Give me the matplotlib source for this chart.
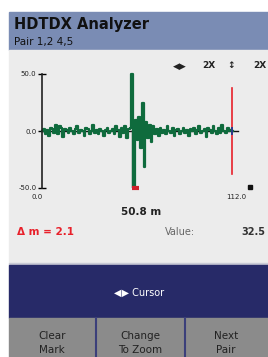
import numpy as np
import matplotlib.pyplot as plt
from matplotlib.patches import Rectangle

# trace data (distance in m, amplitude)
dist = np.arange(0, 109, 1.0)
amplitude = [0, 2, -3, 1, -4, 3, 2, -2, 5, -3, 4, 3, -5, 2, 1, -2, 3, 0, -3, 2,
             4, -2, 1, 0, -4, 3, 2, -3, 0, 5, -2, 1, -3, 2, 0, -4, 1, 3, -2, 0,
             2, -3, 4, 1, -5, 3, -2, 4, -6, 2, 3, 50, -50, 10, -8, 12, -15, 25, -32, 8,
             -6, 5, -10, 4, -3, 2, -4, 3, -2, 1, -3, 4, 0, -2, 3, -4, 1, 2, -3, 0,
             3, -2, 1, -4, 2, 0, 3, -3, 1, 4, -2, 0, 2, -5, 3, 1, -2, 4, 0, -3,
             3, -2, 5, 0, -2, 3, 0, 1, 0]
cursor_pos = 50.8
mark_pos = 107.5
mark_range = (-38, 38)
y_ticks = [50, 0, -50]
y_tick_labels = ["50.0", "0.0", "-50.0"]
x_range = (0, 112)
button_labels = ["Clear\nMark", "Change\nTo Zoom", "Next\nPair"]

W, H = 268, 357
fig = plt.figure(figsize=(W / 100, H / 100), dpi=100)
fig.patch.set_facecolor("white")

bg = fig.add_axes([0, 0, 1, 1])
bg.set_xlim(0, W)
bg.set_ylim(H, 0)
bg.axis("off")

# screen panels
bg.add_patch(Rectangle((9, 12), W - 9, 38, color="#7a8cb4"))
bg.add_patch(Rectangle((9, 50), W - 9, 214, color="#ececec"))
bg.add_patch(Rectangle((9, 263), W - 9, 2, color="#c9cad6"))
bg.add_patch(Rectangle((9, 265), W - 9, 53, color="#272a68"))
bg.add_patch(Rectangle((9, 318), W - 9, H - 318, color="#8b8b8b"))
for xd in [96, 185]:
    bg.plot([xd, xd], [318, H], color="#3b3f7a", lw=1.5)

bg.text(14, 24, "HDTDX Analyzer", fontsize=10.5, fontweight="bold", va="center", color="#111111")
bg.text(14, 42, "Pair 1,2 4,5", fontsize=7.5, va="center", color="#111111")

for xt, s in [(180, "◀▶"), (209, "2X"), (231, "↕"), (260, "2X")]:
    bg.text(xt, 66, s, fontsize=6.5, ha="center", va="center", color="#222222", fontweight="bold")

bg.text(141, 212, f"{cursor_pos:.1f} m", fontsize=7.5, ha="center", va="center",
        color="#222222", fontweight="bold")
bg.text(17, 232, "Δ m = 2.1", fontsize=7.5, va="center", color="#e8202a", fontweight="bold")
bg.text(165, 232, "Value:", fontsize=7, va="center", color="#666666")
bg.text(265, 232, "32.5", fontsize=7, ha="right", va="center", color="#333333", fontweight="bold")
bg.text(139, 293, "◀▶ Cursor", fontsize=7, ha="center", va="center", color="white")

for cx, lab in zip([52, 140, 226], button_labels):
    bg.text(cx, 331, lab, fontsize=7.5, ha="center", va="top", color="#222222",
            linespacing=1.5)
    
# trace axes
ax = fig.add_axes([42 / W, (H - 188) / H, 198 / W, 114 / H])
ax.set_facecolor("none")
ax.set_xlim(*x_range)
ax.set_ylim(-50, 50)
for s in ["top", "right", "bottom"]:
    ax.spines[s].set_visible(False)
ax.spines["left"].set_color("#222222")
ax.spines["left"].set_linewidth(1.2)
ax.set_xticks([])
ax.set_yticks(y_ticks)
ax.set_yticklabels(y_tick_labels, fontsize=5, color="#222222")
ax.tick_params(axis="y", direction="inout", length=6, width=1, pad=1)

ax.plot([0, 111], [0, 0], color="#111111", lw=1)
ax.axvline(cursor_pos, color="#666666", lw=1)
ax.plot(dist, amplitude, drawstyle="steps-mid", color="#0f6b3d", lw=1.6, clip_on=False)
ax.plot([mark_pos, mark_pos], mark_range, color="#e8202a", lw=1.2)
ax.plot([mark_pos, mark_pos], [-3, 3], color="#2a3a8a", lw=1.4)
ax.plot([cursor_pos, cursor_pos + 4], [-50, -50], color="#d0202a", lw=3, solid_capstyle="butt",
        clip_on=False)
ax.plot([117.6], [-49], marker="s", color="#111111", ms=3, clip_on=False)

ax.text(-3, -58, "0.0", fontsize=5, ha="center", va="center", color="#222222")
ax.text(110, -58, "112.0", fontsize=5, ha="center", va="center", color="#222222")

fig.savefig("out.png", dpi=100)
